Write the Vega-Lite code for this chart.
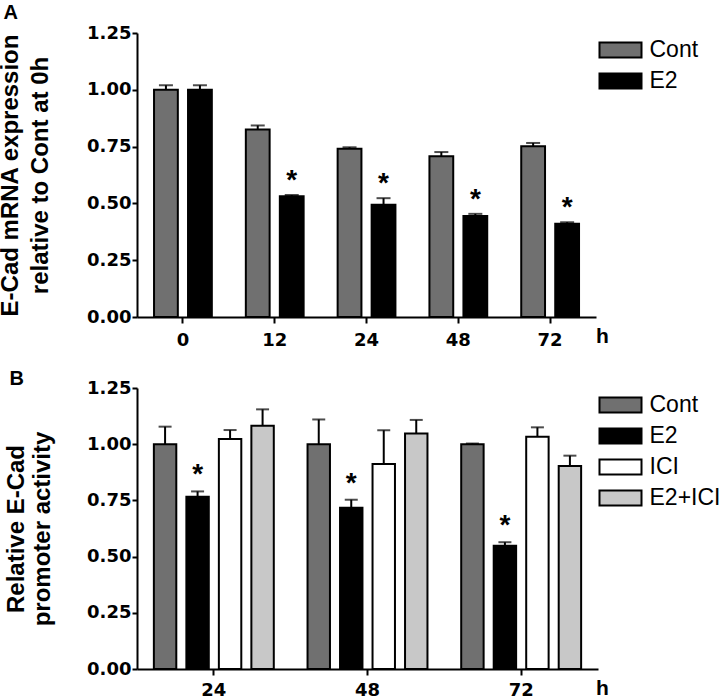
{
  "$schema": "https://vega.github.io/schema/vega-lite/v6.json",
  "background": "white",
  "padding": {"left": -2, "top": 3, "right": 0, "bottom": 0},
  "spacing": 19,
  "datasets": {
    "mrna": [
      {"time": "0", "group": "Cont", "mean": 1.0, "hi": 1.02, "sig": ""},
      {"time": "0", "group": "E2", "mean": 1.0, "hi": 1.02, "sig": ""},
      {"time": "12", "group": "Cont", "mean": 0.825, "hi": 0.843, "sig": ""},
      {"time": "12", "group": "E2", "mean": 0.531, "hi": 0.537, "sig": "*"},
      {"time": "24", "group": "Cont", "mean": 0.74, "hi": 0.747, "sig": ""},
      {"time": "24", "group": "E2", "mean": 0.494, "hi": 0.523, "sig": "*"},
      {"time": "48", "group": "Cont", "mean": 0.707, "hi": 0.726, "sig": ""},
      {"time": "48", "group": "E2", "mean": 0.445, "hi": 0.454, "sig": "*"},
      {"time": "72", "group": "Cont", "mean": 0.751, "hi": 0.766, "sig": ""},
      {"time": "72", "group": "E2", "mean": 0.41, "hi": 0.417, "sig": "*"}
    ],
    "promoter": [
      {"time": "24", "group": "Cont", "mean": 1.0, "hi": 1.078, "sig": ""},
      {"time": "24", "group": "E2", "mean": 0.766, "hi": 0.79, "sig": "*"},
      {"time": "24", "group": "ICI", "mean": 1.023, "hi": 1.063, "sig": ""},
      {"time": "24", "group": "E2+ICI", "mean": 1.082, "hi": 1.155, "sig": ""},
      {"time": "48", "group": "Cont", "mean": 1.0, "hi": 1.11, "sig": ""},
      {"time": "48", "group": "E2", "mean": 0.717, "hi": 0.753, "sig": "*"},
      {"time": "48", "group": "ICI", "mean": 0.912, "hi": 1.062, "sig": ""},
      {"time": "48", "group": "E2+ICI", "mean": 1.048, "hi": 1.108, "sig": ""},
      {"time": "72", "group": "Cont", "mean": 1.0, "hi": 1.003, "sig": ""},
      {"time": "72", "group": "E2", "mean": 0.548, "hi": 0.564, "sig": "*"},
      {"time": "72", "group": "ICI", "mean": 1.033, "hi": 1.075, "sig": ""},
      {"time": "72", "group": "E2+ICI", "mean": 0.903, "hi": 0.949, "sig": ""}
    ]
  },
  "config": {
    "view": {"stroke": null},
    "font": "Liberation Sans",
    "axis": {
      "domainColor": "black", "domainWidth": 2, "tickColor": "black", "tickWidth": 2,
      "labelColor": "black", "labelFont": "DejaVu Sans", "labelFontWeight": "bold", "labelFontSize": 18,
      "titleColor": "black", "titleFont": "Liberation Sans", "titleFontWeight": "bold", "titleFontSize": 24,
      "grid": false
    },
    "axisX": {
      "labelAngle": 0, "tickSize": 6, "titleAngle": 0, "titleFontSize": 21,
      "titleX": 465, "titleY": 19, "titleAlign": "center", "titleBaseline": "middle"
    },
    "axisY": {"tickSize": 5, "labelPadding": 1},
    "legend": {
      "orient": "none", "legendX": 466, "legendY": -0.5, "title": null,
      "symbolType": "M-1.273,-0.4545H1.273V0.4545H-1.273Z", "symbolSize": 1089,
      "symbolStrokeColor": "black", "symbolStrokeWidth": 2,
      "labelFont": "Liberation Sans", "labelFontSize": 23, "labelColor": "black",
      "labelOffset": 11.5, "rowPadding": 1, "padding": 0
    },
    "title": {"font": "Liberation Sans", "fontWeight": "bold", "fontSize": 20, "color": "black", "anchor": "start", "frame": "bounds"}
  },
  "resolve": {"scale": {"fill": "independent", "xOffset": "independent"}, "legend": {"fill": "independent"}},
  "vconcat": [
    {
      "width": 459, "height": 284,
      "title": {"text": "A", "offset": 1, "dx": 5},
      "data": {"name": "mrna"},
      "encoding": {
        "x": {"field": "time", "type": "ordinal",
          "scale": {"domain": ["0", "12", "24", "48", "72"], "paddingInner": 0.26, "paddingOuter": 0.13},
          "axis": {"title": "h", "labelPadding": 8.5}},
        "xOffset": {"field": "group", "type": "nominal",
          "scale": {"domain": ["Cont", "E2"], "range": [0, 68], "paddingInner": 0.3, "paddingOuter": 0.15}}
      },
      "layer": [
        {
          "mark": {"type": "bar", "stroke": "black", "strokeWidth": 2},
          "encoding": {
            "y": {"field": "mean", "type": "quantitative", "scale": {"domain": [0, 1.25], "nice": false},
              "axis": {"values": [0, 0.25, 0.5, 0.75, 1, 1.25], "format": ".2f",
                "title": ["E-Cad mRNA expression", "relative to Cont at 0h"], "titleLineHeight": 30, "titlePadding": 34}},
            "fill": {"field": "group", "type": "nominal",
              "scale": {"domain": ["Cont", "E2"], "range": ["#707070", "#000000"]},
              "legend": {"encode": {"symbols": {"update": {"stroke": {"value": "black"}, "strokeWidth": {"value": 2}}}}}}
          }
        },
        {
          "mark": {"type": "rule", "color": "black", "strokeWidth": 2},
          "encoding": {"y": {"field": "mean", "type": "quantitative"}, "y2": {"field": "hi"}}
        },
        {
          "mark": {"type": "tick", "color": "black", "size": 14, "thickness": 2},
          "encoding": {"y": {"field": "hi", "type": "quantitative"}}
        },
        {
          "mark": {"type": "text", "font": "Liberation Sans", "fontWeight": "bold", "fontSize": 28, "baseline": "alphabetic", "dy": -6, "color": "black"},
          "encoding": {"y": {"field": "hi", "type": "quantitative"}, "text": {"field": "sig"}}
        }
      ]
    },
    {
      "width": 461, "height": 281,
      "title": {"text": "B", "offset": -10, "dx": 5},
      "data": {"name": "promoter"},
      "encoding": {
        "x": {"field": "time", "type": "ordinal",
          "scale": {"domain": ["24", "48", "72"], "paddingInner": 0.154, "paddingOuter": 0.077},
          "axis": {"title": "h", "labelPadding": 6.5}},
        "xOffset": {"field": "group", "type": "nominal",
          "scale": {"domain": ["Cont", "E2", "ICI", "E2+ICI"], "range": [0, 130], "paddingInner": 0.31, "paddingOuter": 0.155}}
      },
      "layer": [
        {
          "mark": {"type": "bar", "stroke": "black", "strokeWidth": 2},
          "encoding": {
            "y": {"field": "mean", "type": "quantitative", "scale": {"domain": [0, 1.25], "nice": false},
              "axis": {"values": [0, 0.25, 0.5, 0.75, 1, 1.25], "format": ".2f",
                "title": ["Relative E-Cad", "promoter activity"], "titleLineHeight": 26, "titlePadding": 32}},
            "fill": {"field": "group", "type": "nominal",
              "scale": {"domain": ["Cont", "E2", "ICI", "E2+ICI"], "range": ["#707070", "#000000", "#ffffff", "#c8c8c8"]},
              "legend": {"encode": {"symbols": {"update": {"stroke": {"value": "black"}, "strokeWidth": {"value": 2}}}}}}
          }
        },
        {
          "mark": {"type": "rule", "color": "black", "strokeWidth": 2},
          "encoding": {"y": {"field": "mean", "type": "quantitative"}, "y2": {"field": "hi"}}
        },
        {
          "mark": {"type": "tick", "color": "black", "size": 13, "thickness": 2},
          "encoding": {"y": {"field": "hi", "type": "quantitative"}}
        },
        {
          "mark": {"type": "text", "font": "Liberation Sans", "fontWeight": "bold", "fontSize": 28, "baseline": "alphabetic", "dy": -8, "color": "black"},
          "encoding": {"y": {"field": "hi", "type": "quantitative"}, "text": {"field": "sig"}}
        }
      ]
    }
  ]
}
